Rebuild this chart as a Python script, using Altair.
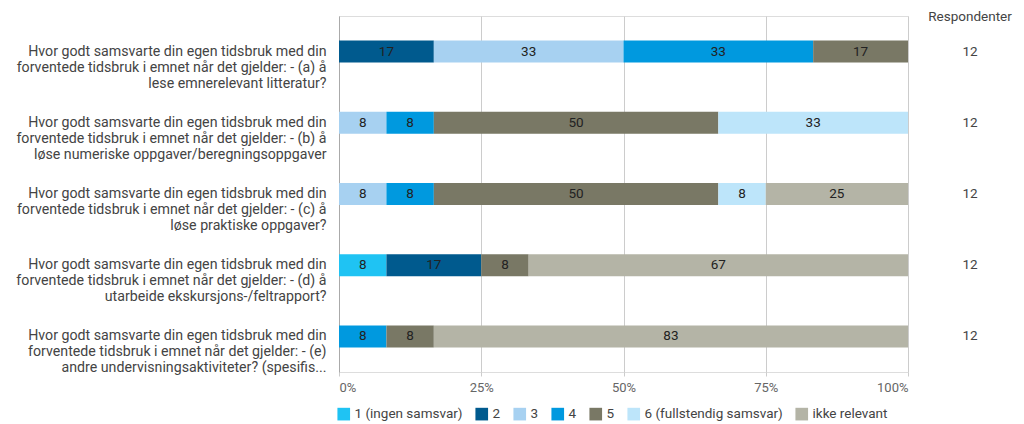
import altair as alt
import pandas as pd

questions = [
    "Hvor godt samsvarte din egen tidsbruk med din|forventede tidsbruk i emnet når det gjelder: - (a) å|lese emnerelevant litteratur?",
    "Hvor godt samsvarte din egen tidsbruk med din|forventede tidsbruk i emnet når det gjelder: - (b) å|løse numeriske oppgaver/beregningsoppgaver",
    "Hvor godt samsvarte din egen tidsbruk med din|forventede tidsbruk i emnet når det gjelder: - (c) å|løse praktiske oppgaver?",
    "Hvor godt samsvarte din egen tidsbruk med din|forventede tidsbruk i emnet når det gjelder: - (d) å|utarbeide ekskursjons-/feltrapport?",
    "Hvor godt samsvarte din egen tidsbruk med din|forventede tidsbruk i emnet når det gjelder: - (e)|andre undervisningsaktiviteter? (spesifis...",
]
categories = ["1 (ingen samsvar)", "2", "3", "4", "5", "6 (fullstendig samsvar)", "ikke relevant"]
colors = ["#1fc3f3", "#005a8e", "#a7d1f1", "#0099df", "#797865", "#bde5fa", "#b4b4a6"]
respondents = [12, 12, 12, 12, 12]

# number of respondents per category (1..6, ikke relevant), per question
counts = [
    [0, 2, 4, 4, 2, 0, 0],
    [0, 0, 1, 1, 6, 4, 0],
    [0, 0, 1, 1, 6, 1, 3],
    [1, 2, 0, 0, 1, 0, 8],
    [0, 0, 0, 1, 1, 0, 10],
]

rows = []
for qi, q in enumerate(questions):
    for ci, c in enumerate(categories):
        if counts[qi][ci] > 0:
            rows.append({"question": q, "category": c, "order": ci, "count": counts[qi][ci]})
df = pd.DataFrame(rows)
resp_df = pd.DataFrame({"question": questions, "n": respondents})

FONT = "Roboto"
W, H = 569, 356

y_enc = alt.Y(
    "question:N",
    sort=questions,
    scale=alt.Scale(paddingInner=0.69, paddingOuter=0.345),
    axis=alt.Axis(
        title=None,
        labelExpr="split(datum.label, '|')",
        labelFontSize=14.2,
        labelColor="#444444",
        labelFont=FONT,
        labelLineHeight=16,
        labelPadding=13,
        labelLimit=400,
        ticks=False,
        domain=True,
        domainColor="#aaaaaa",
        grid=False,
    ),
)

base = alt.Chart(df).transform_stack(
    stack="count",
    groupby=["question"],
    as_=["x0", "x1"],
    offset="normalize",
    sort=[alt.SortField("order", order="ascending")],
)

bars = base.mark_bar(size=22).encode(
    y=y_enc,
    x=alt.X(
        "x0:Q",
        scale=alt.Scale(domain=[0, 1], nice=False),
        axis=alt.Axis(
            title=None,
            format="%",
            values=[0, 0.25, 0.5, 0.75, 1],
            labelFontSize=13,
            labelColor="#666666",
            labelFont=FONT,
            labelPadding=5,
            tickColor="#cccccc",
            tickSize=4,
            domain=False,
            grid=True,
            gridColor="#cccccc",
        ),
    ),
    x2="x1:Q",
    color=alt.Color(
        "category:N",
        sort=categories,
        scale=alt.Scale(domain=categories, range=colors),
        legend=alt.Legend(
            title=None,
            orient="none",
            direction="horizontal",
            legendX=-2,
            legendY=391,
            symbolType="square",
            symbolSize=160,
            symbolStrokeWidth=0,
            labelFontSize=13.5,
            labelFont=FONT,
            labelColor="#444444",
            columnPadding=12,
            labelOffset=4,
        ),
    ),
    order=alt.Order("order:Q"),
)

labels = base.transform_calculate(
    mid="(datum.x0 + datum.x1) / 2",
    pct="round(datum.x1 * 100 - datum.x0 * 100)",
).mark_text(fontSize=13.5, font=FONT, color="#222222", baseline="middle").encode(
    y=alt.Y("question:N", sort=questions),
    x=alt.X("mid:Q"),
    text=alt.Text("pct:Q"),
)

resp = alt.Chart(resp_df).mark_text(fontSize=13.5, font=FONT, color="#444444", baseline="middle").encode(
    y=alt.Y("question:N", sort=questions),
    x=alt.value(W + 62),
    text="n:Q",
)

header = alt.Chart(pd.DataFrame({"t": ["Respondenter"]})).mark_text(
    fontSize=13.5, font=FONT, color="#444444", baseline="top"
).encode(x=alt.value(W + 62), y=alt.value(-6), text="t:N")

chart = (
    alt.layer(bars, labels, resp, header)
    .properties(
        width=W,
        height=H,
        autosize=alt.AutoSizeParams(type="none"),
        padding={"left": 331, "top": 8, "right": 108, "bottom": 52},
    )
    .configure_view(stroke=None)
    .configure(font=FONT)
)

chart.save("out.html", embed_options={"renderer": "svg", "actions": False})
